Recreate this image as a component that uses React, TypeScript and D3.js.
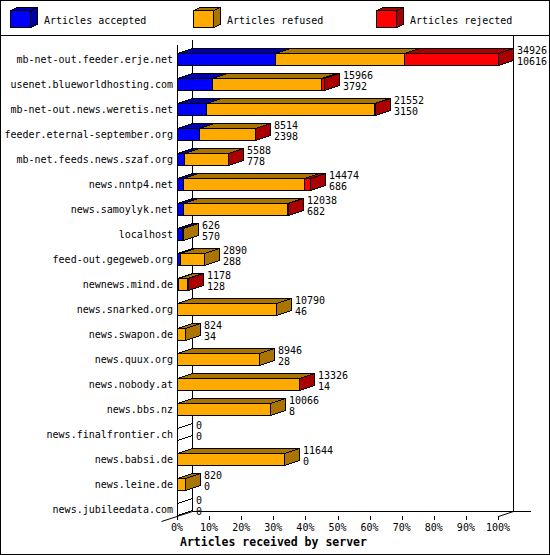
import * as d3 from 'd3'

const servers = [
  'mb-net-out.feeder.erje.net',
  'usenet.blueworldhosting.com',
  'mb-net-out.news.weretis.net',
  'feeder.eternal-september.org',
  'mb-net.feeds.news.szaf.org',
  'news.nntp4.net',
  'news.samoylyk.net',
  'localhost',
  'feed-out.gegeweb.org',
  'newnews.mind.de',
  'news.snarked.org',
  'news.swapon.de',
  'news.quux.org',
  'news.nobody.at',
  'news.bbs.nz',
  'news.finalfrontier.ch',
  'news.babsi.de',
  'news.leine.de',
  'news.jubileedata.com',
]

// printed labels: total offered / accepted
const totals = [34926, 15966, 21552, 8514, 5588, 14474, 12038, 626, 2890, 1178, 10790, 824, 8946, 13326, 10066, 0, 11644, 820, 0]
const accepted = [10616, 3792, 3150, 2398, 778, 686, 682, 570, 288, 128, 46, 34, 28, 14, 8, 0, 0, 0, 0]
const refused = [14060, 11924, 18322, 6066, 4750, 13138, 11276, 56, 2602, 960, 10744, 790, 8918, 13272, 10058, 0, 11644, 820, 0]
const rejected = [10250, 250, 80, 50, 60, 650, 80, 0, 0, 90, 0, 0, 0, 40, 0, 0, 0, 0, 0]

const seriesNames = ['Articles accepted', 'Articles refused', 'Articles rejected']
const frontColors = ['#0000ff', '#ffaa00', '#ff0000']
const shadeColors = ['#0000aa', '#aa7400', '#aa0000']
const percentTicks = [0, 10, 20, 30, 40, 50, 60, 70, 80, 90, 100]
const axisTitle = 'Articles received by server'

const W = 550
const H = 555
const DX = 15
const DY = 5
const BAR_H = 12
const FONT = '"DejaVu Sans Mono", monospace'

function Box({ x0, x1, top, h, dx, dy, front, shade }: {
  x0: number; x1: number; top: number; h: number; dx: number; dy: number; front: string; shade: string
}) {
  const b = top + h
  return (
    <g stroke="#000" strokeWidth={1} shapeRendering="crispEdges">
      <polygon points={`${x0},${top} ${x1},${top} ${x1},${b} ${x0},${b}`} fill={front} />
      <polygon points={`${x0},${top} ${x0 + dx},${top - dy} ${x1 + dx},${top - dy} ${x1},${top}`} fill={shade} />
      <polygon points={`${x1},${top} ${x1 + dx},${top - dy} ${x1 + dx},${b - dy} ${x1},${b}`} fill={shade} />
    </g>
  )
}

export default function App() {
  const x = d3.scaleLinear().domain([0, d3.max(totals) as number]).range([177, 498])
  const pct = d3.scaleLinear().domain([0, 100]).range([177, 498])
  const y = d3.scaleBand<string>().domain(servers).range([45, 520])
  const legendX = d3.scaleLinear().domain([0, 1]).range([10, 193])

  const x0 = pct(0)
  const floorY = 516
  const backX = x0 + DX
  const rightX = pct(100) + DX

  const rows = servers.map((name, i) => {
    const vals = [accepted[i], refused[i], rejected[i]]
    const top = Math.round(y(name) as number) + 8
    let cum = 0
    const segs: { a: number; b: number; k: number }[] = []
    vals.forEach((v, k) => {
      const a = Math.round(x(cum))
      const b = Math.round(x(cum + v))
      cum += v
      if (v > 0) segs.push({ a, b, k })
    })
    const empty = segs.length === 0
    if (empty) segs.push({ a: Math.round(x0), b: Math.round(x0), k: -1 })
    return { name, i, top, segs, end: segs[segs.length - 1].b }
  })

  return (
    <svg width={W} height={H} style={{ position: 'absolute', left: 0, top: 0, background: '#fff' }}
      fontFamily={FONT}>
      <rect x={0.5} y={0.5} width={W - 1} height={H - 1} fill="#fff" stroke="#000" />
      <line x1={0} x2={W} y1={35.5} y2={35.5} stroke="#000" />

      {/* legend */}
      {seriesNames.map((s, k) => {
        const lx = Math.round(legendX(k))
        return (
          <g key={s}>
            <Box x0={lx + 0.5} x1={lx + 20.5} top={10.5} h={17} dx={7} dy={3} front={frontColors[k]} shade={shadeColors[k]} />
            <text x={lx + 34} y={24} fontSize={10} fill="#000">{s}</text>
          </g>
        )
      })}

      {/* walls and floor */}
      <g stroke="#000" strokeWidth={1} shapeRendering="crispEdges">
        <line x1={backX + 0.5} x2={backX + 0.5} y1={40} y2={floorY - DY + 0.5} />
        <line x1={rightX + 0.5} x2={rightX + 0.5} y1={35.5} y2={floorY - DY + 0.5} />
        <line x1={x0 + 0.5} x2={x0 + 0.5} y1={45} y2={floorY + 4} />
        <line x1={backX} x2={531} y1={floorY - DY + 0.5} y2={floorY - DY + 0.5} />
        {percentTicks.map(t => (
          <line key={t} x1={Math.round(pct(t)) + 0.5} x2={Math.round(pct(t)) + 0.5} y1={floorY} y2={floorY + 4} />
        ))}
      </g>
      <line x1={161.5} y1={521.5} x2={backX + 0.5} y2={floorY - DY + 0.5} stroke="#000" />
      <line x1={pct(100) + 0.5} y1={floorY + 0.5} x2={rightX + 0.5} y2={floorY - DY + 0.5} stroke="#000" />

      {percentTicks.map(t => (
        <text key={t} x={pct(t)} y={530.5} fontSize={10} textAnchor="middle" fill="#000">{t}%</text>
      ))}

      {/* bars */}
      {rows.map(r => (
        <g key={r.name}>
          {r.segs.map(s => (
            <Box key={s.k} x0={s.a + 0.5} x1={s.b + 0.5} top={r.top + 0.5} h={BAR_H} dx={DX} dy={DY}
              front={s.k < 0 ? 'none' : frontColors[s.k]} shade={s.k < 0 ? 'none' : shadeColors[s.k]} />
          ))}
        </g>
      ))}

      {/* labels */}
      {rows.map(r => (
        <g key={r.name} fontSize={10} fill="#000">
          <text x={173} y={r.top + 10} textAnchor="end">{r.name}</text>
          <text x={r.end + 19} y={r.top + 1}>{totals[r.i]}</text>
          <text x={r.end + 19} y={r.top + 12}>{accepted[r.i]}</text>
        </g>
      ))}

      <text x={180} y={546} fontSize={11.5} fontWeight="bold" fill="#000">{axisTitle}</text>
    </svg>
  )
}
